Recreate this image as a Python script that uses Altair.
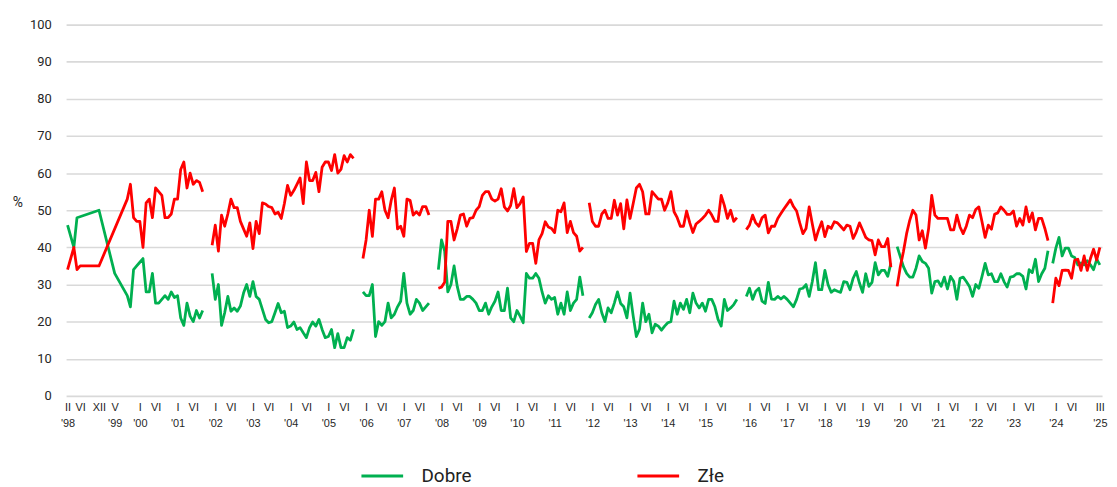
import json
import altair as alt
import pandas as pd

GREEN = "#00b050"
RED = "#ff0000"

# ---- data (percent) ----
# segment 1: sparse early surveys, then monthly from XI 1999 to IX 2001
early_dobre_months = [(1998, 2), (1998, 4), (1998, 5), (1998, 12), (1999, 5), (1999, 9), (1999, 10)]
early_dobre = [46, 40, 48, 50, 33, 27, 24]
early_zle_months = [(1998, 2), (1998, 4), (1998, 5), (1998, 6), (1998, 12), (1999, 9), (1999, 10)]
early_zle = [34, 40, 34, 35, 35, 53, 57]

dobre_1999_2001 = [34, 35, 36, 37, 28, 28, 33, 25, 25, 26, 27, 26, 28, 26.5, 27, 21, 19, 25, 21.5, 20, 23, 21, 23]
zle_1999_2001 = [48, 47, 47, 40, 52, 53, 48, 56, 55, 54, 48, 48, 49, 53, 53, 61, 63, 56, 60, 57, 58, 57.5, 55]

# segment 2: XII 2001 - X 2005
dobre_2001_2005 = [33, 26, 30, 19, 22.4, 26.8, 22.8, 23.7, 22.8, 24.2, 27.7, 30, 26.8, 30.8, 26.8, 26, 23.3,
                   20.6, 19.7, 20, 22.4, 24.9, 22.4, 22.8, 18.4, 18.8, 19.9, 17.9, 18.4, 17, 15.7, 18.4, 19.9,
                   18.8, 20.6, 17.9, 15.7, 16, 17.9, 13, 16.8, 13, 13, 15.7, 15, 17.9]
zle_2001_2005 = [40.6, 46, 39, 48.7, 45.7, 49, 53, 50.7, 50.7, 47, 45, 43, 46.6, 39.7, 47, 43.7, 52, 51.7, 51,
                 50.7, 49, 49.5, 47.8, 51.8, 56.7, 54, 55.3, 57, 58.7, 51.8, 63, 58, 58, 60.2, 55, 61.6, 63, 63,
                 60.7, 65, 60, 61, 64.7, 63, 65, 64]

# segment 3: XII 2005 - IX 2007
dobre_2005_2007 = [28, 27, 27, 30, 16, 20, 19, 20, 25, 21, 22, 24, 25.5, 33, 25, 22, 23, 26, 25, 23, 24, 25]
zle_2005_2007 = [37, 42, 50, 43, 53, 53, 55, 50, 48, 52.7, 56, 45, 45.7, 43, 53, 52.7, 48.7, 49.6, 48.7, 51, 51, 48.7]

# segment 4: XII 2007 - X 2011
dobre_2007_2011 = [34, 42, 39, 28, 30, 35, 29.5, 26, 26, 26.8, 26.8, 26, 25, 23, 23, 25, 22, 24, 25.5, 28, 23, 23,
                   29, 21, 20, 23, 21.5, 19.7, 33, 31.7, 31.7, 33, 31.7, 28, 25, 27, 26, 26.5, 22, 25, 22, 28, 23,
                   25, 26, 32, 27]
zle_2007_2011 = [29, 29.3, 30.6, 47, 47, 42, 45, 48.7, 49, 45.7, 47.8, 48, 50, 51, 54, 55, 55, 53, 52.5, 53, 55.8,
                 50.9, 49.8, 51.3, 55.8, 50.7, 51.8, 53.6, 38.9, 41.1, 41.1, 35.7, 42, 43.7, 46.9, 45.5, 45.1, 44,
                 50, 49.6, 52, 44, 47, 44, 43, 39, 40]

# segment 5: XII 2011 - XI 2015
dobre_2011_2015 = [21, 22.4, 24.6, 26, 22.4, 20, 23.7, 22.4, 25, 28, 24.9, 24, 21, 27.7, 21.5, 16, 18, 25, 20, 22,
                   17, 19.3, 18.8, 17.7, 18.8, 19.7, 20, 25.5, 22, 25, 23.3, 26, 22.4, 27.7, 25, 23.7, 25, 22.8,
                   26, 26, 24, 20.6, 18.8, 26, 23, 23.7, 24.6, 26]
zle_2011_2015 = [52, 47, 45.7, 45.7, 49, 50, 47.8, 47.8, 52.7, 48.7, 51.8, 45, 52.8, 47.8, 51.8, 56, 57, 55, 49, 49,
                 55, 54, 53, 53, 50, 52, 55, 49.6, 48, 45.7, 45.7, 49.8, 46.6, 44, 46.3, 47, 47.8, 48.7, 50, 48.7,
                 47, 47, 54, 51.3, 47.8, 50, 47, 48]

# segment 6: XII 2015 - X 2019
dobre_2015_2019 = [26.8, 29, 26, 28.2, 29, 25.5, 24.9, 30.6, 26.1, 26, 26.8, 26.1, 26.8, 26, 25, 24, 26, 28.8, 29,
                   30, 26.8, 30.8, 35.9, 28.6, 28.6, 33.8, 30, 27.9, 28.6, 28.2, 27.9, 30.8, 30.6, 28.6, 31.7,
                   33.5, 30.4, 27.9, 32.9, 29.5, 30.6, 35.9, 32.6, 33.8, 33.8, 32.2, 35.7]
zle_2015_2019 = [44.8, 46, 48.7, 46.6, 45.7, 48, 48.7, 43.9, 45.7, 45.7, 47.8, 49.1, 50.4, 51.6, 52.8, 51, 49.8,
                 46.6, 43.7, 45.1, 50.9, 46.3, 42, 44.7, 46.9, 42.9, 45.7, 45.1, 46.9, 46.6, 45.7, 44.7, 46, 45.7,
                 42.4, 44.2, 46.6, 44.7, 42.7, 42, 41.8, 38, 42, 40.2, 40.2, 42.4, 34.7]

# segment 7: XII 2019 - XII 2023
dobre_2019_2023 = [40.2, 37.5, 34.8, 33, 32, 32, 34.4, 37.7, 36.2, 35.7, 34.4, 27.7, 30.8, 31, 29.5, 32, 28.8,
                   32.2, 30.8, 26, 31.7, 32, 30.8, 29.5, 26.8, 30, 29, 32.2, 35.7, 32.6, 32.9, 30.8, 30.8, 32.9,
                   30.8, 29.3, 32, 32.2, 32.9, 32.9, 32.2, 28.8, 34, 33.2, 36.8, 30.8, 32.9, 34.4, 39.1]
zle_2019_2023 = [29.5, 34.8, 38.9, 43.7, 47.3, 50, 48.7, 42, 44.5, 39.8, 45, 54, 48.7, 47.8, 47.8, 47.8, 47.8,
                 44.7, 44.7, 48.7, 45.5, 43.7, 45.7, 48.7, 48, 50.2, 50.9, 46.9, 42.7, 46, 44.9, 48.9, 49.3, 50.9,
                 50, 48.9, 48.9, 49.8, 45.7, 47.8, 46, 50.9, 46.9, 49.3, 44.7, 47.8, 47.8, 45.1, 41.8]

# segment 8: XII 2023 - III 2025
dobre_2023_2025 = [35.7, 39.8, 42.7, 37.7, 39.8, 39.8, 37.7, 37.3, 35.3, 35.8, 35.3, 36.4, 35.3, 34, 36.8, 35.3]
zle_2023_2025 = [25, 31.7, 29.7, 33.8, 33.9, 33.8, 31.7, 36.6, 36.8, 33.8, 37.7, 33.8, 37, 39.5, 36.6, 40]

# (segment id, start year, start month, blank slots before it on the category axis, dobre, zle)
segments = [
    (2, 2001, 12, 0, dobre_2001_2005, zle_2001_2005),
    (3, 2005, 12, 0, dobre_2005_2007, zle_2005_2007),
    (4, 2007, 12, 0, dobre_2007_2011, zle_2007_2011),
    (5, 2011, 12, 0, dobre_2011_2015, zle_2011_2015),
    (6, 2015, 12, 2, dobre_2015_2019, zle_2015_2019),
    (7, 2019, 12, 2, dobre_2019_2023, zle_2019_2023),
    (8, 2023, 12, 3.5, dobre_2023_2025, zle_2023_2025),
]

SERIES = ["Dobre", "Złe"]


def slot(y, m, gap):
    return (y - 1998) * 12 + (m - 1) + gap


rows = []
for (y, m), v in zip(early_dobre_months, early_dobre):
    rows.append({"seria": "Dobre", "seg": 1, "x": slot(y, m, 0), "v": v})
for (y, m), v in zip(early_zle_months, early_zle):
    rows.append({"seria": "Złe", "seg": 1, "x": slot(y, m, 0), "v": v})
for k, (vd, vz) in enumerate(zip(dobre_1999_2001, zle_1999_2001)):
    s = slot(1999, 11, 0) + k
    rows.append({"seria": "Dobre", "seg": 1, "x": s, "v": vd})
    rows.append({"seria": "Złe", "seg": 1, "x": s, "v": vz})
for seg, y, m, gap, dob, zle in segments:
    base = slot(y, m, gap)
    for k, v in enumerate(dob):
        rows.append({"seria": "Dobre", "seg": seg, "x": base + k, "v": v})
    for k, v in enumerate(zle):
        rows.append({"seria": "Złe", "seg": seg, "x": base + k, "v": v})

df = pd.DataFrame(rows)
df["key"] = df["seria"] + "_" + df["seg"].astype(str)

# ---- x-axis labels (month / year) ----
tick_defs = [(1998, 2, "II", "'98"), (1998, 6, "VI", ""), (1998, 12, "XII", ""), (1999, 5, "V", "'99")]
for yr in range(2000, 2025):
    tick_defs.append((yr, 1, "I", "'" + str(yr)[2:]))
    tick_defs.append((yr, 6, "VI", ""))
tick_defs.append((2025, 3, "III", "'25"))


def tick_gap(y):
    if y >= 2024:
        return 3.5
    if y >= 2016:
        return 2
    return 0


tick_vals = [slot(y, m, tick_gap(y)) for y, m, _, _ in tick_defs]
tick_labels = [a + ("|" + b if b else "") for _, _, a, b in tick_defs]
label_expr = "split({}[indexof({}, datum.value)], '|')".format(json.dumps(tick_labels), json.dumps(tick_vals))

FONT = "Roboto"

chart = alt.Chart(df).mark_line(strokeWidth=2.8, strokeJoin="round").encode(
    x=alt.X("x:Q",
            scale=alt.Scale(domain=[0.526, 330.2], nice=False, zero=False),
            axis=alt.Axis(values=tick_vals, labelExpr=label_expr, grid=False, ticks=False, domain=False,
                          labelPadding=6, labelFontSize=11, labelFont="Liberation Sans Narrow, Liberation Sans",
                          labelColor="#262626", labelLineHeight=16, labelAngle=0, labelOverlap=False,
                          labelBound=False, labelFlush=False, title=None)),
    y=alt.Y("v:Q",
            scale=alt.Scale(domain=[0, 100], nice=False),
            axis=alt.Axis(values=list(range(0, 101, 10)), grid=True, gridColor="#d9d9d9", gridWidth=1.6,
                          domain=False, ticks=False, labelPadding=15, labelFontSize=13, labelFont=FONT,
                          labelColor="#262626", title="%", titleAngle=0, titleX=-49, titleY=179,
                          titleAlign="center", titleBaseline="middle", titleFont=FONT, titleFontSize=14,
                          titleFontWeight="normal", titleColor="#262626")),
    color=alt.Color("seria:N",
                    scale=alt.Scale(domain=SERIES, range=[GREEN, RED]),
                    legend=alt.Legend(orient="none", legendX=296, legendY=432, direction="horizontal",
                                      title=None, symbolType="stroke", symbolSize=1764, symbolStrokeWidth=3,
                                      labelFont=FONT, labelFontSize=19, labelColor="#222222",
                                      labelOffset=17, columnPadding=160)),
    detail="key:N",
).properties(
    width=1043.5,
    height=374,
    autosize=alt.AutoSizeParams(type="none"),
    padding={"left": 58.5, "top": 15, "right": 7, "bottom": 90},
).configure_view(stroke=None)

chart.save("out.html", embed_options={"renderer": "svg", "actions": False})
